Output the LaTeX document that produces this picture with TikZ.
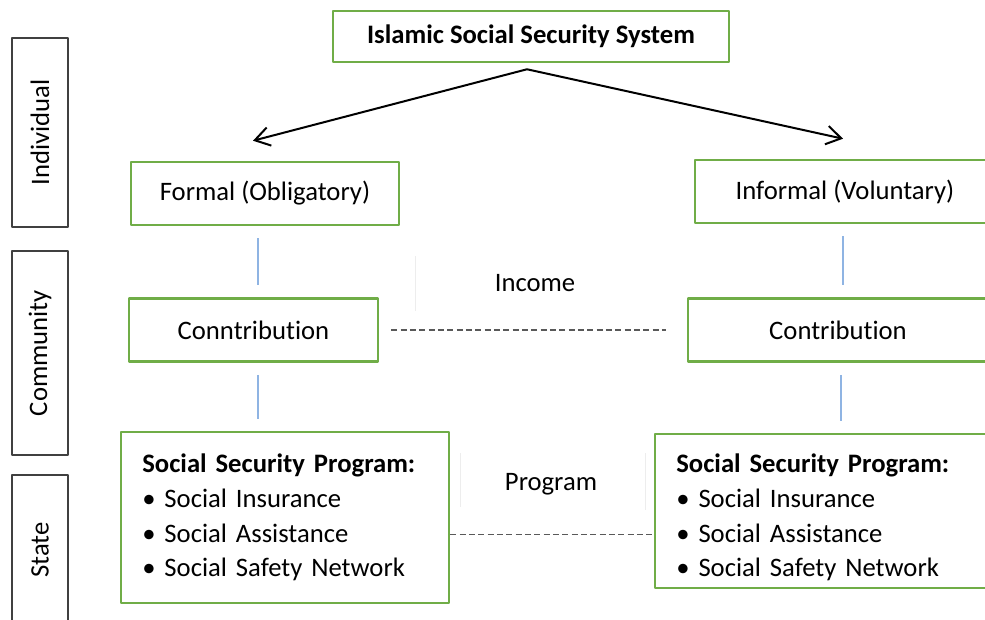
\documentclass[tikz,border=0pt]{standalone}
\usepackage{fontspec}
\setmainfont{Carlito}[Ligatures=NoCommon]
\usetikzlibrary{arrows.meta}
\definecolor{boxgreen}{RGB}{112,173,71}
\definecolor{linkblue}{RGB}{143,180,227}
\definecolor{sidegray}{RGB}{64,64,64}
\definecolor{dashgray}{RGB}{89,89,89}
\begin{document}
\begin{tikzpicture}[x=0.75pt,y=-0.75pt,line join=round,>={Straight Barb[length=11pt,width=14pt]}]
	\tikzset{txt/.style={font=\fontsize{20}{26}\selectfont},
		green box/.style={txt,draw=boxgreen,line width=1.9pt,inner sep=0pt,minimum height=47.25pt},
		side box/.style={txt,draw=sidegray,line width=1.1pt,inner sep=0pt,rotate=90,minimum height=42pt},
		prog box/.style={green box,align=left,inner xsep=16pt},
		link/.style={draw=linkblue,line width=1pt,shorten <=9pt,shorten >=9pt},
		dash line/.style={draw=dashgray,line width=0.8pt,dash pattern=on 4.5pt off 2.5pt},
		ghost/.style={draw=black!7,line width=0.6pt}}
	\useasboundingbox (0,0) rectangle (985,620);
	\clip (0,0) rectangle (985,620);
	% levels on the left
	\node[side box,minimum width=141.75pt] (individual) at (40,132.5) {Individual};
	\node[side box,minimum width=153pt] (community) at (40,353) {Community};
	\node[side box,minimum width=112.5pt] (state) at (40,550) {State};
	% top of the tree
	\node[green box,minimum width=297pt,minimum height=38.25pt,font=\fontsize{20}{26}\selectfont\bfseries] (system) at (531,36.5) {Islamic Social Security System};
	\node[green box,minimum width=201pt] (formal) at (265,193.5) {Formal (Obligatory)};
	\node[green box,minimum width=225pt] (informal) at (845,191.5) {Informal (Voluntary)};
	\coordinate (fork) at ([xshift=-3pt,yshift=-4.5pt]system.south);
	\coordinate (tipl) at ([xshift=-9pt,yshift=15pt]formal.north);
	\coordinate (tipr) at ([xshift=-1.5pt,yshift=15pt]informal.north);
	\draw[->,line width=1.5pt] (fork) -- (tipl);
	\draw[->,line width=1.5pt] (fork) -- (tipr);
	% contributions
	\node[green box,minimum width=186.75pt] (contl) at (253.5,330) {Conntribution};
	\node[green box,minimum width=225pt] (contr) at (838,330) {Contribution};
	\node[txt] (income) at (535,283) {Income};
	\draw[dash line,shorten <=9pt,shorten >=15.75pt] (contl) -- (contr);
	% programs
	\node[prog box,text width=214pt,minimum height=128.25pt] (progl) at (285,517.5) {\textbf{Social Security Program:}\\
		\textbullet\ Social Insurance\\ \textbullet\ Social Assistance\\ \textbullet\ Social Safety Network};
	\node[prog box,text width=219.25pt,minimum height=115.5pt] (progr) at (822.5,511) {\rule{0pt}{24pt}\textbf{Social Security Program:}\\
		\textbullet\ Social Insurance\\ \textbullet\ Social Assistance\\ \textbullet\ Social Safety Network};
	\node[txt] (program) at (551,484) {Program};
	\draw[dash line] ([yshift=-12.4pt]progl.east) -- ([yshift=-12.4pt]progl.east -| progr.west);
	% blue links between levels
	\draw[link] (258,0 |- formal.south) -- (258,0 |- contl.north);
	\draw[link] (258,0 |- contl.south) -- (258,0 |- progl.north);
	\draw[link] (843,0 |- informal.south) -- (843,0 |- contr.north);
	\draw[link] (841,0 |- contr.south) -- (841,0 |- progr.north);
	% faint frame edges
	\draw[ghost] (415,256) -- (415,311);
	\draw[ghost] (460,453) -- (460,507);
	\draw[ghost] (645,453) -- (645,510);
\end{tikzpicture}
\end{document}
